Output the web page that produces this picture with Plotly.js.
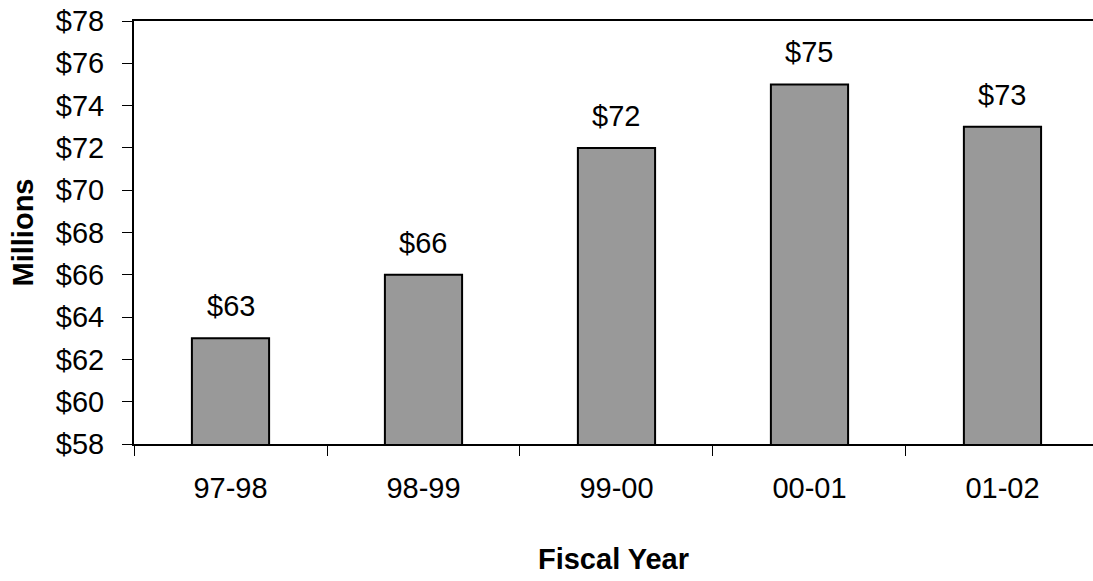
<!DOCTYPE html>
<html><head><meta charset="utf-8">
<script src="https://cdn.plot.ly/plotly-3.0.1.min.js"></script>
<style>html,body{margin:0;padding:0;background:#fff}#c{width:1093px;height:581px}</style>
</head><body><div id="c"></div>
<script>
const years = ["97-98","98-99","99-00","00-01","01-02"];
const values = [63, 66, 72, 75, 73];
const labels = ["$63","$66","$72","$75","$73"];
const yTicks = [58,60,62,64,66,68,70,72,74,76,78];
const yTickText = yTicks.map(v => "$" + v);

const font = {family: "Liberation Sans, Arial, sans-serif", color: "#000", size: 29};
const trace = {
  type: "bar", x: years, y: values, width: 0.4,
  marker: {color: "#999999", line: {color: "#000", width: 2}},
  hoverinfo: "none"
};
const annotations = years.map((c, i) => ({
  x: c, y: values[i], text: labels[i], showarrow: false,
  yanchor: "bottom", yshift: 14, font: font
}));
const layout = {
  width: 1093, height: 581,
  margin: {l: 134, r: 0, t: 21, b: 137},
  paper_bgcolor: "#fff", plot_bgcolor: "#fff",
  font: font, showlegend: false, bargap: 0.6,
  xaxis: {
    type: "category", range: [-0.5, 4.469], fixedrange: true,
    showline: true, linecolor: "#000", linewidth: 2, mirror: true,
    ticks: "outside", tickson: "boundaries", ticklen: 10, tickcolor: "#000", tickwidth: 1,
    ticklabelstandoff: 17, showgrid: false, zeroline: false,
    title: {text: "<b>Fiscal Year</b>", font: font, standoff: 46}
  },
  yaxis: {
    range: [58, 78], tickvals: yTicks, ticktext: yTickText,
    showline: true, linecolor: "#000", linewidth: 2,
    ticks: "outside", ticklen: 10, tickcolor: "#000", tickwidth: 1,
    ticklabelstandoff: 12, showgrid: false, zeroline: false,
    title: {text: "<b>Millions</b>", font: font, standoff: 14}
  },
  annotations: annotations
};
Plotly.newPlot("c", [trace], layout, {staticPlot: true});
</script></body></html>
